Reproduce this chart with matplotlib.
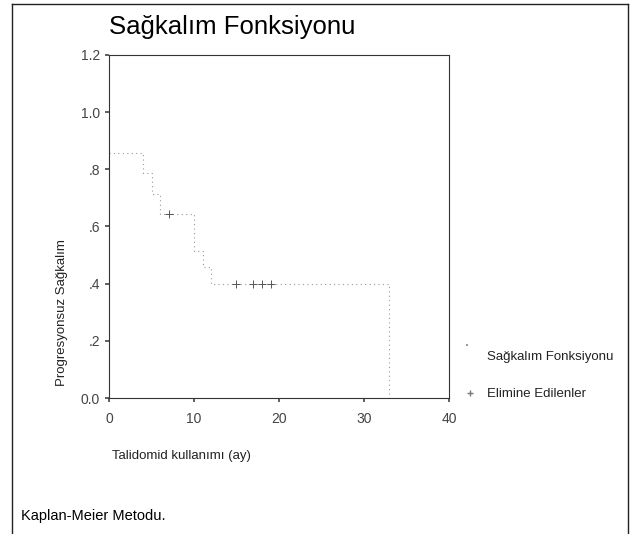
import matplotlib
matplotlib.use("Agg")
from matplotlib import pyplot as plt
from matplotlib.lines import Line2D

plt.rcParams['font.family'] = ['Liberation Sans', 'DejaVu Sans']

# Kaplan-Meier steps
step_times = [0, 4, 5, 6, 10, 11, 12, 33]
step_surv = [0.857, 0.786, 0.714, 0.643, 0.514, 0.457, 0.400, 0.0]

# censored cases (+)
cens_times = [7, 15, 17, 18, 19]
cens_surv = [0.643, 0.400, 0.400, 0.400, 0.400]

xticks = [0, 10, 20, 30, 40]
yticks = [0.0, 0.2, 0.4, 0.6, 0.8, 1.0, 1.2]
ytick_labels = ["0.0", ".2", ".4", ".6", ".8", "1.0", "1.2"]

fig = plt.figure(figsize=(6.30, 5.34), dpi=100)
ax = fig.add_axes([109/630, (534-398)/534, (449-109)/630, (398-55)/534])

lc = "#9a9a9a"
ax.step(step_times, step_surv, where="post", color=lc, linestyle=(0, (1, 3)), linewidth=0.8)
ax.plot(cens_times, cens_surv, linestyle="None", marker="+", color="#555555", markersize=6, markeredgewidth=0.7)

ax.set_xlim(0, 40)
ax.set_ylim(0, 1.2)
ax.set_xticks(xticks)
ax.set_yticks(yticks)
ax.set_yticklabels(ytick_labels)
ax.tick_params(labelsize=10, colors="#444444", length=3, width=1.2)
ax.tick_params(axis="x", pad=7)
for s in ax.spines.values():
    s.set_linewidth(0.8)
    s.set_color("#333333")

fig.text(232/630, 1 - 27/534, "Sağkalım Fonksiyonu", fontsize=18.5, ha="center", va="center")
fig.text(62/630, 1 - 313/534, "Progresyonsuz Sağkalım", fontsize=9.5, rotation=90, ha="center", va="center", color="#222222")
fig.text(112/630, 1 - 456/534, "Talidomid kullanımı (ay)", fontsize=9.5, ha="left", va="center", color="#222222")
fig.text(21/630, 1 - 516/534, "Kaplan-Meier Metodu.", fontsize=10.5, ha="left", va="center")

# legend outside, drawn by hand
fig.lines.append(Line2D([466/630, 468/630], [1 - 345/534, 1 - 345/534], color=lc, linestyle=(0, (1, 3)), transform=fig.transFigure))
fig.text(487/630, 1 - 357/534, "Sağkalım Fonksiyonu", fontsize=9.5, ha="left", va="center", color="#222222")
fig.lines.append(Line2D([470/630], [1 - 393/534], marker="+", color="#777777", markersize=5, linestyle="None", transform=fig.transFigure))
fig.text(487/630, 1 - 394/534, "Elimine Edilenler", fontsize=9.5, ha="left", va="center", color="#222222")

# frame around the figure (left, top, right)
fig.lines.append(Line2D([12/630, 12/630], [0, 1 - 4/534], color="#222222", linewidth=1, transform=fig.transFigure))
fig.lines.append(Line2D([12/630, 628/630], [1 - 4/534, 1 - 4/534], color="#222222", linewidth=1, transform=fig.transFigure))
fig.lines.append(Line2D([628/630, 628/630], [0, 1 - 4/534], color="#222222", linewidth=1, transform=fig.transFigure))

fig.savefig("out.png", dpi=100)
